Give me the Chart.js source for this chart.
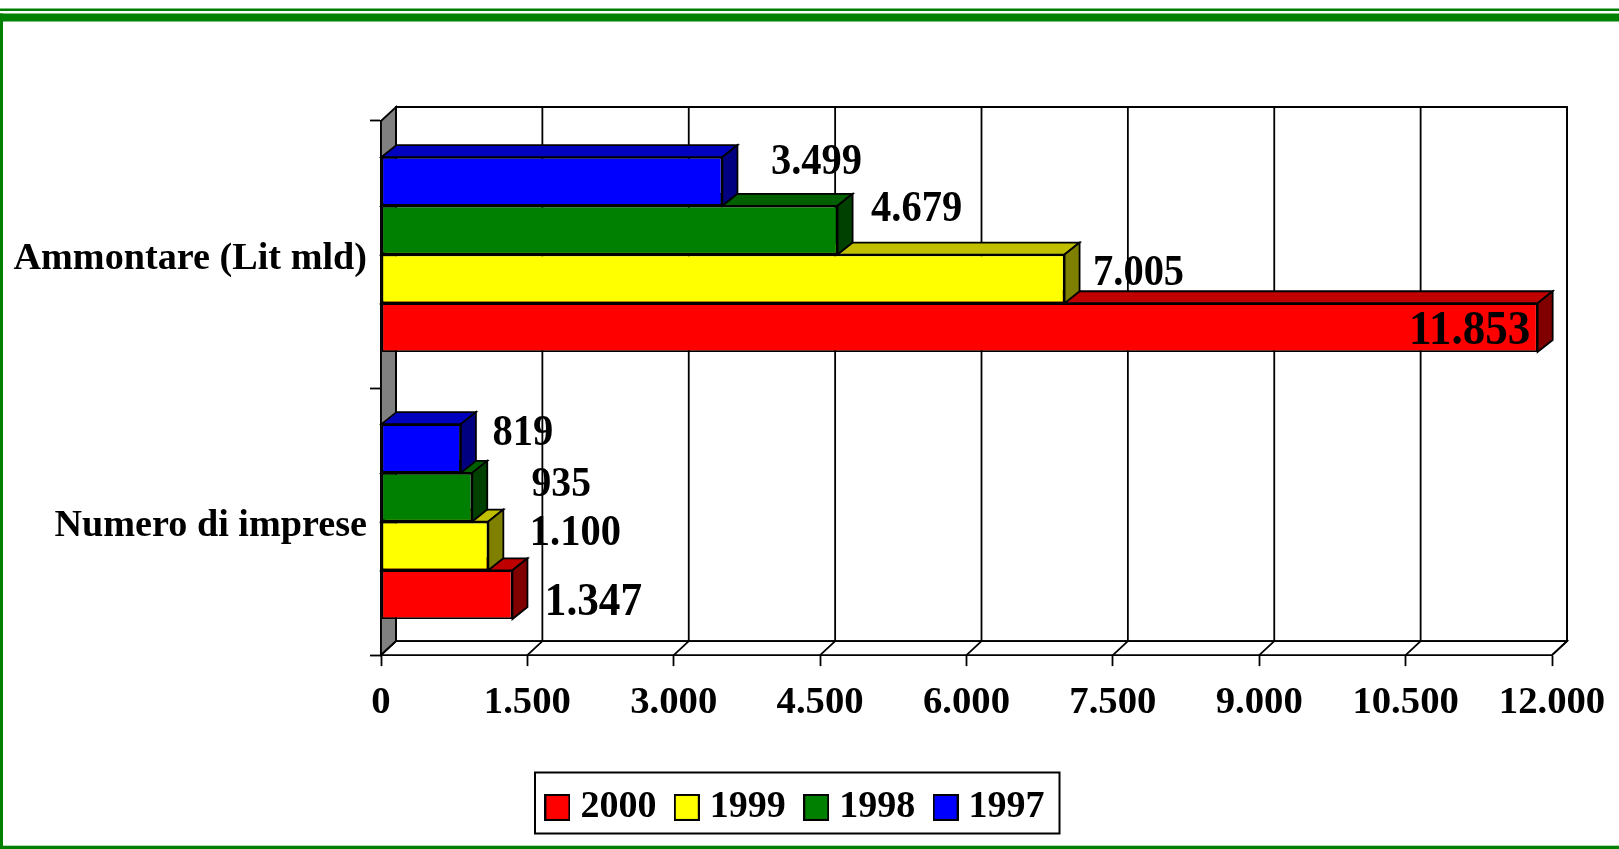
<!DOCTYPE html>
<html>
<head>
<meta charset="utf-8">
<title>Ammontare e numero di imprese</title>
<script src="https://cdn.jsdelivr.net/npm/chart.js@4/dist/chart.umd.min.js"></script>
<style>
html,body{margin:0;padding:0;background:#fff;overflow:hidden}
canvas{display:block}
</style>
</head>
<body>
<canvas id="c" width="1619" height="849"></canvas>
<script>
const categories = ['Ammontare (Lit mld)', 'Numero di imprese'];
const years = ['1997', '1998', '1999', '2000'];
const values1997 = [3499, 819];
const values1998 = [4679, 935];
const values1999 = [7005, 1100];
const values2000 = [11853, 1347];
const tickLabels = ['0', '1.500', '3.000', '4.500', '6.000', '7.500', '9.000', '10.500', '12.000'];

const FONT = '"Liberation Serif"';
const DX = 15, DY = 14, LINE = 1.8, LABEL_SQUEEZE = 0.92;
const colours = [[0,0,255],[0,128,0],[255,255,0],[255,0,0]];
/* value-label placement relative to the bar end and centre, and its type size */
const labelStyle = [
  [{dx:94,dy:-19,size:44},{dx:62,dy:-15,size:44}],
  [{dx:79,dy:-21,size:44},{dx:89,dy:-12,size:43}],
  [{dx:74,dy:-5,size:44},{dx:87,dy:-12,size:44}],
  [{dx:-68,dy:4,size:49},{dx:81,dy:8,size:47}]
];
const rgb = (c,k)=>`rgb(${Math.round(c[0]*k)},${Math.round(c[1]*k)},${Math.round(c[2]*k)})`;
const fmt = v => String(v).replace(/\B(?=(\d{3})+$)/g,'.');

function swatch(col){
  const s=document.createElement('canvas'); s.width=26; s.height=27;
  const g=s.getContext('2d');
  g.fillStyle=col; g.fillRect(0,0,26,27);
  g.strokeStyle='#000'; g.lineWidth=2; g.strokeRect(1,1,24,25);
  return s;
}
function poly(ctx,pts,fill){
  ctx.beginPath();
  pts.forEach((p,i)=>i?ctx.lineTo(p[0],p[1]):ctx.moveTo(p[0],p[1]));
  ctx.closePath();
  if(fill){ctx.fillStyle=fill;ctx.fill();}
  ctx.stroke();
}

const scene = {
  id:'scene',
  afterLayout(chart){
    const L=chart.legend;
    L.left=54; L.right=1544; L.top=762; L.bottom=849;
  },
  beforeDraw(chart){
    const ctx=chart.ctx;
    ctx.save();
    ctx.fillStyle='#fff'; ctx.fillRect(0,0,chart.width,chart.height);
    ctx.fillStyle='#008000';
    ctx.fillRect(0,8.5,chart.width,2.5);
    ctx.fillRect(0,13.5,chart.width,8);
    ctx.fillRect(0,13.5,3,chart.height);
    ctx.fillRect(0,845.7,chart.width,4);
    ctx.restore();
  },
  beforeDatasetsDraw(chart){
    const ctx=chart.ctx, a=chart.chartArea, xs=chart.scales.x;
    ctx.save();
    ctx.strokeStyle='#000'; ctx.lineWidth=LINE; ctx.lineJoin='miter';
    /* back wall, side wall, floor */
    poly(ctx,[[a.left+DX,a.top-DY],[a.right+DX,a.top-DY],[a.right+DX,a.bottom-DY],[a.left+DX,a.bottom-DY]],'#fff');
    poly(ctx,[[a.left,a.top],[a.left+DX,a.top-DY],[a.left+DX,a.bottom-DY],[a.left,a.bottom]],'#808080');
    poly(ctx,[[a.left,a.bottom],[a.left+DX,a.bottom-DY],[a.right+DX,a.bottom-DY],[a.right,a.bottom]],'#fff');
    xs.ticks.forEach(t=>{
      const x=xs.getPixelForValue(t.value);
      ctx.beginPath();
      ctx.moveTo(x,a.bottom);
      ctx.lineTo(x+DX,a.bottom-DY);
      ctx.lineTo(x+DX,a.top-DY);
      ctx.stroke();
    });
    /* bar depth faces, bottom bars first */
    for(let d=chart.data.datasets.length-1;d>=0;d--){
      const col=colours[d];
      chart.getDatasetMeta(d).data.forEach(el=>{
        const p=el.getProps(['x','y','base','height'],true);
        const t=p.y-p.height/2, b=p.y+p.height/2;
        poly(ctx,[[p.base,t],[p.base+DX,t-DY+2],[p.x+DX,t-DY+2],[p.x,t]],rgb(col,.75));
        poly(ctx,[[p.x,t],[p.x+DX,t-DY+2],[p.x+DX,b-DY+2],[p.x,b]],rgb(col,.5));
      });
    }
    ctx.restore();
  },
  afterDatasetsDraw(chart){
    const ctx=chart.ctx;
    ctx.save();
    ctx.fillStyle='#000'; ctx.textAlign='center'; ctx.textBaseline='middle';
    chart.data.datasets.forEach((ds,d)=>{
      chart.getDatasetMeta(d).data.forEach((el,i)=>{
        const p=el.getProps(['x','y'],true), s=labelStyle[d][i];
        ctx.font=`bold ${s.size}px ${FONT}`;
        ctx.save();
        ctx.translate(p.x+s.dx,p.y+s.dy);
        ctx.scale(LABEL_SQUEEZE,1);
        ctx.fillText(fmt(ds.data[i]),0,0);
        ctx.restore();
      });
    });
    ctx.restore();
  },
  afterDraw(chart){
    const ctx=chart.ctx;
    ctx.save();
    ctx.strokeStyle='#000'; ctx.lineWidth=2;
    ctx.strokeRect(535,772.5,524.5,61);
    ctx.restore();
  }
};

const seriesValues=[values1997,values1998,values1999,values2000];
new Chart(document.getElementById('c'),{
  type:'bar',
  plugins:[scene],
  data:{
    labels:categories,
    datasets:years.map((y,i)=>({
      label:y,
      data:seriesValues[i],
      backgroundColor:rgb(colours[i],1),
      borderColor:'#000',
      borderWidth:LINE,
      borderSkipped:false,
      inflateAmount:0,
      categoryPercentage:0.73,
      barPercentage:1
    }))
  },
  options:{
    indexAxis:'y',
    responsive:false,
    animation:false,
    devicePixelRatio:1,
    layout:{padding:{left:0,right:67,top:121,bottom:0}},
    scales:{
      x:{
        min:0,max:12000,
        border:{display:true,color:'#000',width:LINE},
        grid:{drawOnChartArea:false,drawTicks:true,tickLength:11,tickColor:'#000',tickWidth:LINE},
        ticks:{
          stepSize:1500,autoSkip:false,maxRotation:0,minRotation:0,color:'#000',padding:14,
          font:{family:FONT,weight:'bold',size:38.7},
          callback:(v,i)=>tickLabels[i]
        },
        afterFit(s){s.paddingLeft=0;s.paddingRight=0;s.height=119.5;}
      },
      y:{
        border:{display:true,color:'#000',width:LINE},
        grid:{drawOnChartArea:false,drawTicks:true,tickLength:11,tickColor:'#000',tickWidth:LINE,offset:true},
        ticks:{
          color:'#000',padding:3,autoSkip:false,labelOffset:5,
          font:{family:FONT,weight:'bold',size:38.2}
        },
        afterFit(s){s.width=381;s.paddingTop=0;s.paddingBottom=0;}
      }
    },
    plugins:{
      tooltip:{enabled:false},
      title:{display:false},
      legend:{
        display:true,position:'bottom',align:'center',
        labels:{
          usePointStyle:true,pointStyleWidth:8,padding:26.4,color:'#000',
          font:{family:FONT,weight:'bold',size:38},
          sort:(a,b)=>b.datasetIndex-a.datasetIndex,
          generateLabels(chart){
            return chart.data.datasets.map((d,i)=>({
              text:d.label,datasetIndex:i,fontColor:'#000',lineWidth:0,hidden:false,
              fillStyle:d.backgroundColor,strokeStyle:'#000',
              pointStyle:swatch(d.backgroundColor)
            }));
          }
        }
      }
    }
  }
});
</script>
</body>
</html>
